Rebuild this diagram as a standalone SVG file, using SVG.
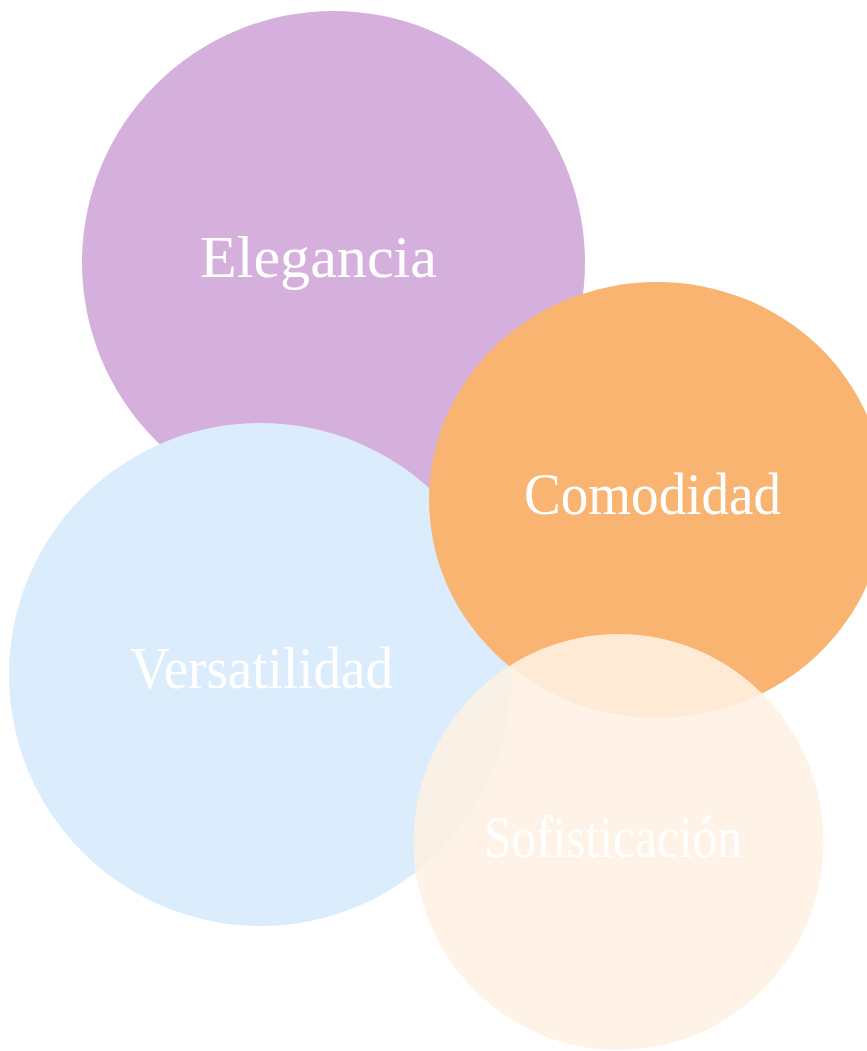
<svg xmlns="http://www.w3.org/2000/svg" width="867" height="1051" viewBox="0 0 867 1051">
<style>
.lbl{font-family:"Liberation Serif","DejaVu Serif",serif;fill:#ffffff;text-anchor:middle;font-size:60px}
</style>
<rect width="867" height="1051" fill="#ffffff"/>
<g id="elegancia">
<circle cx="333.5" cy="262.5" r="251.5" fill="#d5b0dd"/>
<text class="lbl" x="318.5" y="277" textLength="237" lengthAdjust="spacingAndGlyphs">Elegancia</text>
</g>
<g id="versatilidad">
<circle cx="260.5" cy="674.5" r="251.5" fill="#dbecfd"/>
<text class="lbl" x="261.5" y="688" textLength="263" lengthAdjust="spacingAndGlyphs">Versatilidad</text>
</g>
<g id="comodidad">
<ellipse cx="657" cy="500" rx="228" ry="218" fill="#f8b470"/>
<text class="lbl" x="652.5" y="514" textLength="257" lengthAdjust="spacingAndGlyphs">Comodidad</text>
</g>
<g id="sofisticacion">
<ellipse cx="618.5" cy="842" rx="205" ry="208" fill="#fef1e2" fill-opacity="0.88"/>
<text class="lbl" x="613" y="857" textLength="258" lengthAdjust="spacingAndGlyphs">Sofisticación</text>
</g>
<g id="connectors"></g>
</svg>
